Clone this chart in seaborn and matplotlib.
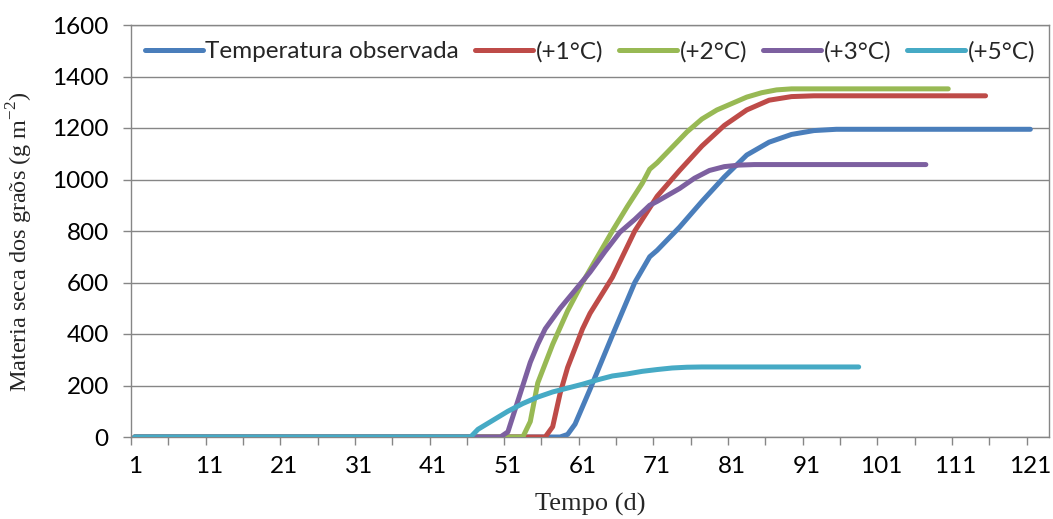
import matplotlib
matplotlib.use("Agg")
import matplotlib.pyplot as plt
import seaborn as sns
import pandas as pd
import numpy as np

# ---- data ----
series_names = ["Temperatura observada", "(+1°C)", "(+2°C)", "(+3°C)", "(+5°C)"]

obs_days = [1, 58, 59, 60, 62, 65, 68, 70, 71, 74, 77, 80, 83, 86, 89, 92, 95, 98, 121]
obs_vals = [0, 0, 10, 50, 185, 395, 600, 700, 725, 815, 915, 1010, 1095, 1145, 1175, 1190, 1195, 1195, 1195]

p1_days = [1, 56, 57, 58, 59, 61, 62, 65, 68, 71, 74, 77, 80, 83, 86, 89, 92, 115]
p1_vals = [0, 0, 40, 170, 270, 420, 480, 620, 800, 935, 1035, 1130, 1210, 1270, 1308, 1322, 1325, 1325]

p2_days = [1, 53, 54, 55, 57, 59, 61, 63, 65, 67, 69, 70, 71, 73, 75, 77, 79, 81, 83, 85, 87, 89, 110]
p2_vals = [0, 0, 60, 210, 360, 490, 600, 700, 800, 895, 985, 1040, 1065, 1125, 1185, 1235, 1270, 1295, 1320, 1337, 1348, 1352, 1352]

p3_days = [1, 50, 51, 52, 53, 54, 55, 56, 58, 60, 62, 64, 66, 68, 70, 71, 74, 76, 78, 80, 82, 84, 107]
p3_vals = [0, 0, 20, 110, 200, 290, 360, 420, 500, 570, 640, 720, 795, 845, 900, 915, 965, 1005, 1035, 1050, 1056, 1058, 1058]

p5_days = [1, 46, 47, 49, 51, 53, 55, 57, 59, 61, 63, 65, 67, 69, 71, 73, 75, 77, 98]
p5_vals = [0, 0, 30, 65, 100, 130, 155, 175, 190, 205, 222, 237, 245, 255, 262, 268, 271, 272, 272]

x_tick_labels = [1, 11, 21, 31, 41, 51, 61, 71, 81, 91, 101, 111, 121]
y_ticks = [0, 200, 400, 600, 800, 1000, 1200, 1400, 1600]

colors = ["#4A7EBB", "#BE4B48", "#98B954", "#7D60A0", "#46AAC5"]

# ---- build long table ----
frames = []
for name, d, v in zip(series_names,
                      [obs_days, p1_days, p2_days, p3_days, p5_days],
                      [obs_vals, p1_vals, p2_vals, p3_vals, p5_vals]):
    frames.append(pd.DataFrame({"day": d, "value": v, "series": name}))
df = pd.concat(frames, ignore_index=True)

sns.set_style("white")
plt.rcParams["font.family"] = ["Lato", "DejaVu Sans"]
plt.rcParams["mathtext.fontset"] = "custom"
plt.rcParams["mathtext.rm"] = "Liberation Serif"

fig = plt.figure(figsize=(10.53, 5.19), dpi=100)
ax = fig.add_axes([131/1053, 1 - 437/519, (1049-131)/1053, (437-25)/519])

LW = 3.6
sns.lineplot(data=df, x="day", y="value", hue="series", hue_order=series_names,
             palette=colors, estimator=None, sort=False, lw=LW, ax=ax,
             solid_capstyle="round", zorder=3)

gray = "#868686"
ax.set_xlim(0.5, 123.5)
ax.set_ylim(0, 1600)
ax.set_yticks(y_ticks)
ax.set_xticks(x_tick_labels)
ax.set_xticklabels([str(t) for t in x_tick_labels])
ax.set_xticks(np.arange(0.5, 123, 5), minor=True)
ax.tick_params(axis="x", which="major", length=0, pad=14, labelsize=17.5, colors="black")
ax.tick_params(axis="x", which="minor", length=6, width=1, color=gray, direction="out", bottom=True)
ax.tick_params(axis="y", which="major", length=6, width=1, color=gray, direction="out",
               left=True, pad=10, labelsize=17.5, labelcolor="black")
ax.yaxis.grid(True, color=gray, lw=1)
ax.set_axisbelow(True)
for s in ax.spines.values():
    s.set_color(gray)
    s.set_linewidth(1)

ax.set_xlabel("Tempo (d)", family="Liberation Serif", fontsize=19, labelpad=11)
ax.set_ylabel(r"Materia seca dos graõs (g m$^{\mathregular{-2}}$)", family="Liberation Serif",
              fontsize=17.5)
ax.yaxis.set_label_coords(-0.105, 0.475)

ax.legend(loc="upper center", bbox_to_anchor=(0.5, 0.985), ncol=5, frameon=False,
          fontsize=17.5, handlelength=2.4, handletextpad=0.1, columnspacing=0.65,
          borderaxespad=0)
for line in ax.get_legend().get_lines():
    line.set_linewidth(LW)

fig.savefig("out.png", dpi=100)
